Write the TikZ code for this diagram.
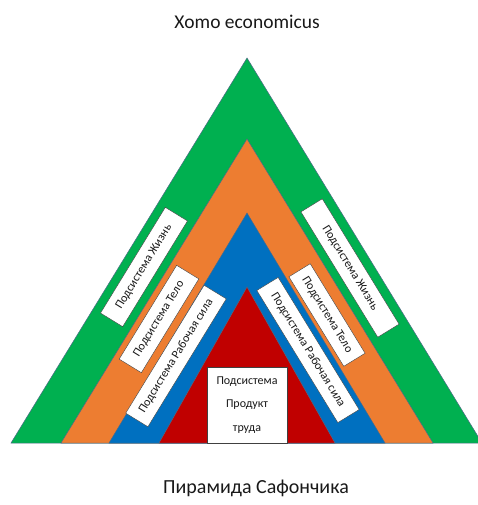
\documentclass[tikz,border=0pt]{standalone}
\usepackage{fontspec}
\setmainfont{Carlito}
\usetikzlibrary{positioning}
\definecolor{lifegreen}{HTML}{00B050}
\definecolor{bodyorange}{HTML}{ED7D31}
\definecolor{workblue}{HTML}{0070C0}
\definecolor{prodred}{HTML}{C00000}
\definecolor{edgegray}{HTML}{4F6A86}
\tikzset{
  layer/.style={draw=edgegray, line width=0.5pt},
  sbox/.style={draw=black!75, fill=white, line width=0.4pt, inner sep=0pt,
    minimum height=26pt, text=black!90, font=\fontsize{12}{12}\selectfont},
  caption/.style={text=black!90, font=\fontsize{19.5}{22}\selectfont}
}

\begin{document}
\begin{tikzpicture}[x=1pt, y=-1pt]
  \useasboundingbox (0,0) rectangle (477,505);
  % pyramid layers
  \fill[lifegreen, layer] (11,443) -- (247,58) -- (482,443) -- cycle;
  \fill[bodyorange, layer] (61,443) -- (247,139) -- (433,443) -- cycle;
  \fill[workblue, layer] (109,443) -- (247,213) -- (385,443) -- cycle;
  \fill[prodred, layer] (159,443) -- (247,287) -- (335,443) -- cycle;

  % left side
  \node[sbox, rotate=58.5, minimum width=124pt] (life1) at (144,267) {Подсистема Жизнь};
  \node[sbox, rotate=58.5, minimum width=110pt] (body1) at (159,319) {Подсистема Тело};
  \node[sbox, rotate=58.5, minimum width=150pt] (work1) at (176,356) {Подсистема Рабочая сила};
  % right side
  \node[sbox, rotate=-58.5, minimum width=147pt, minimum height=25pt] (life2) at (350,268) {Подсистема Жизнь};
  \node[sbox, rotate=-58.5, minimum width=105pt, minimum height=25pt] (body2) at (327,315) {Подсистема Тело};
  \node[sbox, rotate=-58.5, minimum width=155pt, minimum height=25pt] (work2) at (308,350) {Подсистема Рабочая сила};

  \node[sbox, align=center, minimum width=80pt, minimum height=76pt,
    font=\fontsize{12}{23.5}\selectfont] (prod) at (247,405) {Подсистема\\Продукт\\труда};

  \node[caption] (title) at (247,22) {Хomo economicus};
  \node[caption, font=\fontsize{20}{22}\selectfont] (name) at (256,488) {Пирамида Сафончика};
\end{tikzpicture}
\end{document}
